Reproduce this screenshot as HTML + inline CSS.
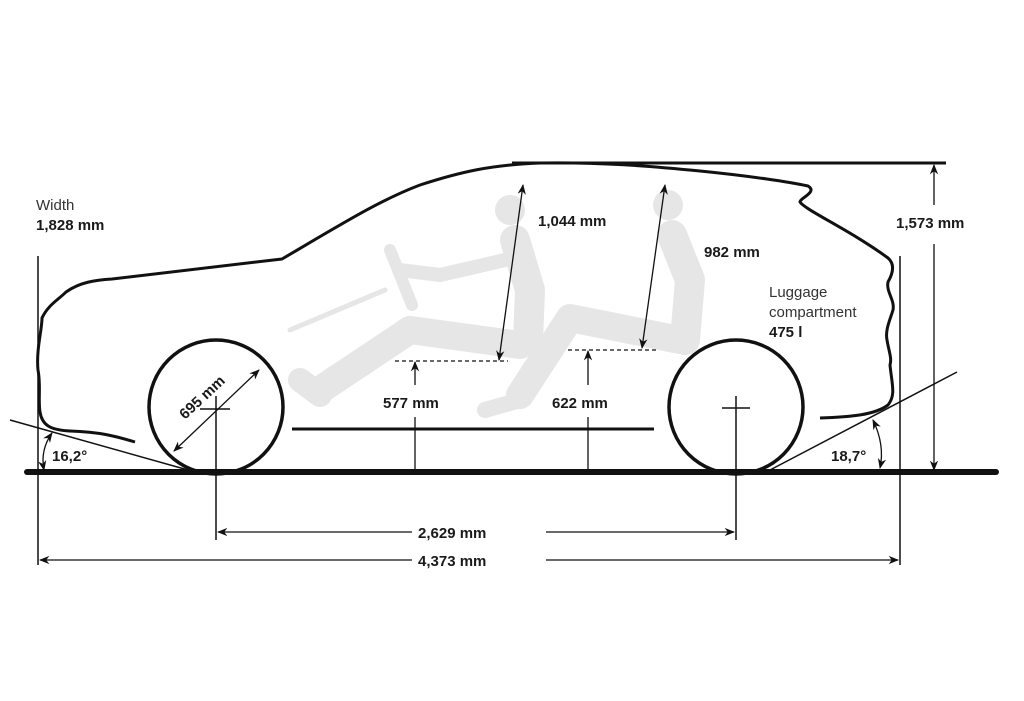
<!DOCTYPE html>
<html><head><meta charset="utf-8"><style>
html,body{margin:0;padding:0;background:#fff;}
svg{display:block;}
text{font-family:"Liberation Sans",sans-serif;fill:#1a1a1a;}
.b{font-weight:bold;font-size:15px;}
.n{font-size:15px;fill:#333;}
</style></head><body>
<svg width="1024" height="701" viewBox="0 0 1024 701" xmlns="http://www.w3.org/2000/svg">
<defs>
<marker id="a" viewBox="0 0 10 10" refX="9" refY="5" markerWidth="8" markerHeight="8" orient="auto-start-reverse"><path d="M0,1 L10,5 L0,9 L3,5 z" fill="#111"/></marker>
</defs>
<!-- gray figures -->
<g stroke="#e6e6e6" stroke-linecap="round" stroke-linejoin="round" fill="none">
  <line x1="290" y1="330" x2="385" y2="290" stroke-width="5"/>
  <line x1="390" y1="250" x2="412" y2="305" stroke-width="12"/>
  <circle cx="510" cy="210" r="15" fill="#e6e6e6" stroke="none"/>
  <path d="M515,240 L530,290 L528,340" stroke-width="30"/>
  <path d="M505,260 L440,275 L400,270" stroke-width="14"/>
  <path d="M520,345 L410,330 L320,390" stroke-width="28"/>
  <path d="M320,395 L300,380" stroke-width="24"/>
  <circle cx="668" cy="205" r="15" fill="#e6e6e6" stroke="none"/>
  <path d="M672,235 L690,280 L685,340" stroke-width="30"/>
  <path d="M680,340 L570,318 L520,395" stroke-width="28"/>
  <path d="M520,400 L485,410" stroke-width="16"/>
</g>
<!-- car outline -->
<path d="M135,442 C115,436 100,432 70,431 C50,430 42,425 40,412 C38,400 41,385 38,370 C36,350 42,330 42,318 C48,305 58,300 66,292 C80,282 96,280 112,279 L282,259 C340,225 380,200 420,185 C460,172 490,165 540,163 C600,162 650,166 700,171 C750,176 790,182 808,186 C818,192 800,198 800,202 C805,210 850,230 888,258 C896,265 892,275 888,282 C886,292 895,300 893,310 C890,320 885,330 887,340 C889,352 892,358 890,365 C892,385 896,395 888,405 C875,415 850,417 820,418" fill="none" stroke="#111" stroke-width="3" stroke-linejoin="round"/>
<line x1="512" y1="163" x2="946" y2="163" stroke="#111" stroke-width="3"/>
<line x1="292" y1="429" x2="654" y2="429" stroke="#111" stroke-width="3"/>
<!-- wheels -->
<circle cx="216" cy="407" r="67" fill="none" stroke="#111" stroke-width="3.5"/>
<circle cx="736" cy="407" r="67" fill="none" stroke="#111" stroke-width="3.5"/>
<line x1="200" y1="409" x2="230" y2="409" stroke="#111" stroke-width="1.5"/>
<line x1="722" y1="408" x2="750" y2="408" stroke="#111" stroke-width="1.5"/>
<line x1="216" y1="396" x2="216" y2="540" stroke="#111" stroke-width="1.5"/>
<line x1="736" y1="396" x2="736" y2="540" stroke="#111" stroke-width="1.5"/>
<!-- ground -->
<line x1="27" y1="472" x2="996" y2="472" stroke="#111" stroke-width="6" stroke-linecap="round"/>
<!-- outer verticals -->
<line x1="38" y1="256" x2="38" y2="565" stroke="#111" stroke-width="1.5"/>
<line x1="900" y1="256" x2="900" y2="565" stroke="#111" stroke-width="1.5"/>
<!-- angle lines -->
<line x1="10" y1="420" x2="188" y2="470" stroke="#111" stroke-width="1.5"/>
<line x1="770" y1="470" x2="957" y2="372" stroke="#111" stroke-width="1.5"/>
<g stroke="#111" stroke-width="1.3" fill="none">
<path d="M52,433 Q40,450 44,470" marker-start="url(#a)" marker-end="url(#a)"/>
<path d="M873,420 Q885,445 880,468" marker-start="url(#a)" marker-end="url(#a)"/>
<line x1="174" y1="451" x2="259" y2="370" marker-start="url(#a)" marker-end="url(#a)"/>
<line x1="934" y1="165" x2="934" y2="205" marker-start="url(#a)"/>
<line x1="934" y1="244" x2="934" y2="470" marker-end="url(#a)"/>
<line x1="499" y1="360" x2="523" y2="185" marker-start="url(#a)" marker-end="url(#a)"/>
<line x1="642" y1="348" x2="665" y2="185" marker-start="url(#a)" marker-end="url(#a)"/>
<line x1="415" y1="385" x2="415" y2="362" marker-end="url(#a)"/>
<line x1="415" y1="417" x2="415" y2="470"/>
<line x1="588" y1="385" x2="588" y2="351" marker-end="url(#a)"/>
<line x1="588" y1="417" x2="588" y2="470"/>
<line x1="395" y1="361" x2="508" y2="361" stroke-dasharray="4,3"/>
<line x1="568" y1="350" x2="657" y2="350" stroke-dasharray="4,3"/>
<line x1="218" y1="532" x2="412" y2="532" marker-start="url(#a)"/>
<line x1="546" y1="532" x2="734" y2="532" marker-end="url(#a)"/>
<line x1="40" y1="560" x2="412" y2="560" marker-start="url(#a)"/>
<line x1="546" y1="560" x2="898" y2="560" marker-end="url(#a)"/>
</g>
<!-- labels -->
<text x="36" y="210" class="n">Width</text>
<text x="36" y="230" class="b">1,828 mm</text>
<text x="538" y="226" class="b">1,044 mm</text>
<text x="704" y="257" class="b">982 mm</text>
<text x="896" y="228" class="b">1,573 mm</text>
<text x="769" y="297" class="n">Luggage</text>
<text x="769" y="317" class="n">compartment</text>
<text x="769" y="337" class="b">475 l</text>
<text x="383" y="408" class="b">577 mm</text>
<text x="552" y="408" class="b">622 mm</text>
<text x="52" y="461" class="b">16,2°</text>
<text x="831" y="461" class="b">18,7°</text>
<text x="0" y="0" class="b" transform="translate(185,420) rotate(-43)">695 mm</text>
<text x="418" y="538" class="b">2,629 mm</text>
<text x="418" y="566" class="b">4,373 mm</text>
</svg>
</body></html>
